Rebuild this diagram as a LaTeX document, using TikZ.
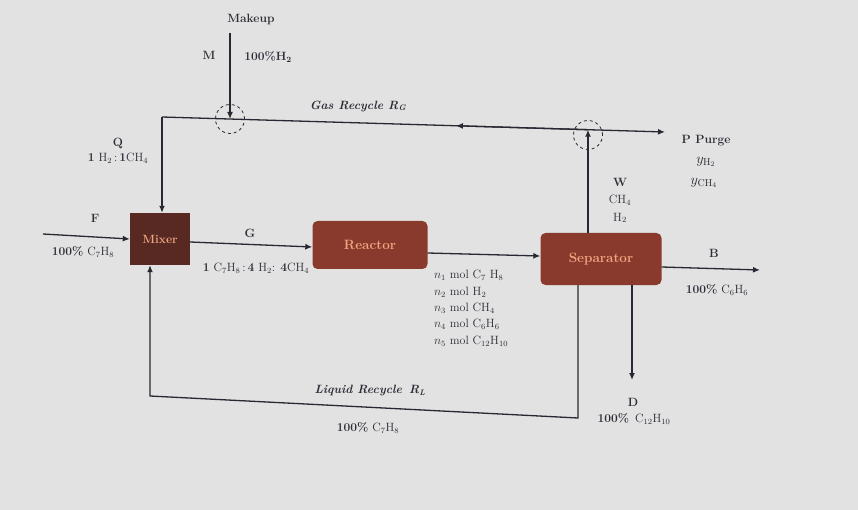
\documentclass[tikz,border=0pt]{standalone}
\usetikzlibrary{arrows.meta,calc}
\definecolor{bgc}{RGB}{226,226,226}
\definecolor{ink}{RGB}{40,40,50}
\definecolor{mixc}{RGB}{88,40,34}
\definecolor{boxc}{RGB}{138,58,44}
\definecolor{boxt}{RGB}{240,165,130}
\definecolor{txt}{RGB}{45,45,55}
\begin{document}
\begin{tikzpicture}[x=1pt,y=-1pt,
  flow/.style={draw=ink,line width=1.3pt,-{Latex[length=7pt,width=6pt]}},
  unit/.style={draw=none,text=boxt,font=\bfseries\fontsize{13.5}{15}\selectfont,inner sep=0pt},
  lbl/.style={text=txt,font=\fontsize{12}{14}\selectfont,inner sep=0pt},
  blbl/.style={text=txt,font=\bfseries\fontsize{12}{14}\selectfont,inner sep=0pt},
  ylbl/.style={text=txt,font=\fontsize{14}{16}\selectfont,inner sep=0pt},
  junc/.style={circle,draw=ink,dashed,line width=0.8pt,minimum size=29pt,inner sep=0pt}]
\fill[bgc] (0,0) rectangle (858,510);
\useasboundingbox (0,0) rectangle (858,510);
% units
\node[unit,fill=mixc,minimum width=60pt,minimum height=52pt,font=\bfseries\fontsize{12}{14}\selectfont] (mixer) at (160,239) {Mixer};
\node[unit,fill=boxc,rounded corners=5pt,minimum width=115pt,minimum height=48pt] (reactor) at (370,245) {Reactor};
\node[unit,fill=boxc,rounded corners=5pt,minimum width=121pt,minimum height=52pt] (separator) at (601,259) {Separator};
% coordinates
\coordinate (fin) at (43,234);
\coordinate (bout) at (760,270);
\coordinate (dend) at (632,380);
\coordinate (lr1) at (578,418);
\coordinate (lr2) at (150,396);
\coordinate (gr1) at (588,129.7);
\coordinate (gl) at (162,117);
\coordinate (purge) at (665,132);
\coordinate (mk) at (230,33);
\coordinate (mkj) at (230,119);
\coordinate (gmid) at ($(gl)!0.69!(gr1)$);
% streams
\draw[flow] (fin) -- (mixer.west);
\draw[flow] ([yshift=-3pt]mixer.east) -- ([yshift=-2pt]reactor.west);
\draw[flow] ([yshift=-8pt]reactor.east) -- ([yshift=3pt]separator.west);
\draw[flow] ([yshift=-8pt]separator.east) -- (bout);
\draw[flow] (separator.south -| dend) -- (dend);
\draw[flow] (separator.south -| lr1) -- (lr1) -- (lr2) -- (mixer.south -| lr2);
\draw[flow] (separator.north -| gr1) -- (gr1);
\draw[flow] (gl) -- (purge);
\draw[flow] (gr1) -- (gmid);
\draw[flow] (gl) -- (mixer.north -| gl);
\draw[flow] (mk) -- (mkj);
\node[junc] (c1) at (mkj) {};
\node[junc] (c2) at (588,135) {};
% labels
\node[blbl] (tmk) at (251,20) {Makeup};
\node[blbl] (tm) at (209,55) {M};
\node[blbl] (tmh) at (268,57) {100\%H\textsubscript{2}};
\node[blbl] (tgr) at (358,106) {\itshape Gas Recycle R\textsubscript{G}};
\node[blbl] (tq) at (118,143) {Q};
\node[lbl] (tq2) at (118,158) {\textbf{1} H$_2$\,:\,\textbf{1}CH$_4$};
\node[blbl] (tf) at (95,218) {F};
\node[lbl] (tf2) at (83,252) {\textbf{100\%} C$_7$H$_8$};
\node[blbl] (tg) at (250,233) {G};
\node[lbl] (tg2) at (256,268) {\textbf{1} C$_7$H$_8$\,:\,\textbf{4} H$_2$: \textbf{4}CH$_4$};
\node[lbl,anchor=west] (n1) at (434,275) {$n_1$ mol C$_7$ H$_8$};
\node[lbl,anchor=west] (n2) at (434,292) {$n_2$ mol H$_2$};
\node[lbl,anchor=west] (n3) at (434,308) {$n_3$ mol CH$_4$};
\node[lbl,anchor=west] (n4) at (434,324) {$n_4$ mol C$_6$H$_6$};
\node[lbl,anchor=west] (n5) at (434,341) {$n_5$ mol C$_{12}$H$_{10}$};
\node[blbl] (tw) at (620,182) {W};
\node[lbl] (tw2) at (620,200) {CH$_4$};
\node[lbl] (tw3) at (620,218) {H$_2$};
\node[blbl] (tp) at (706,141) {P Purge};
\node[ylbl] (tp2) at (706,162) {$y_{\mathrm{H_2}}$};
\node[ylbl] (tp3) at (704,183) {$y_{\mathrm{CH_4}}$};
\node[blbl] (tb) at (714,253) {B};
\node[lbl] (tb2) at (717,290) {\textbf{100\%} C$_6$H$_6$};
\node[blbl] (td) at (633,402) {D};
\node[lbl] (td2) at (634,419) {\textbf{100\%}\, C$_{12}$H$_{10}$};
\node[blbl] (tlr) at (370,391) {\itshape Liquid Recycle\, R\textsubscript{L}};
\node[lbl] (tlr2) at (368,428) {\textbf{100\%} C$_7$H$_8$};
\end{tikzpicture}
\end{document}
